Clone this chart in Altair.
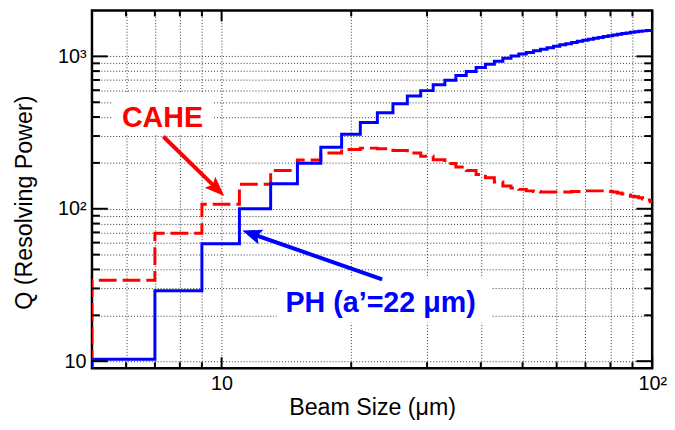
import altair as alt
import pandas as pd

# ---------------- data ----------------
bin_lo = [5, 7, 9, 11, 13, 15, 17, 19, 21, 23, 25, 27, 29, 31, 33, 35, 37, 39,
          41, 43, 45, 47, 49, 51, 53, 55, 57, 59, 61, 63, 65, 67, 69, 71, 73,
          75, 77, 79, 81, 83, 85, 87, 89, 91, 93, 95, 97, 99]
x_max = 100

ph_q = [10.3, 29, 59, 100, 146, 199, 253, 308, 368, 427,
        489, 550, 596, 651, 698, 749, 796, 845, 888, 929,
        971, 1005, 1036, 1060, 1090, 1115, 1140, 1165, 1190, 1210,
        1232, 1255, 1275, 1295, 1315, 1330, 1348, 1365, 1383, 1397,
        1411, 1425, 1438, 1450, 1460, 1470, 1476, 1480]

cahe_q = [34, 69, 107, 145, 178, 209, 232, 245, 250, 248,
          241, 232, 221, 210, 198, 188, 178, 168, 160, 150,
          141, 137, 134, 131, 130, 129, 129, 129, 129, 129,
          130, 130, 131, 131, 131, 131, 131, 130, 129, 127,
          125, 123, 121, 120, 118, 116, 114, 111]

x_domain = [5, 100]
y_domain = [9, 2000]

x_grid_vals = [6, 7, 8, 9, 10, 20, 30, 40, 50, 60, 70, 80, 90, 100]
y_grid_vals = [10, 20, 30, 40, 50, 60, 70, 80, 90,
               100, 200, 300, 400, 500, 600, 700, 800, 900, 1000]
x_major = [10, 100]
x_minor = [6, 7, 8, 9, 20, 30, 40, 50, 60, 70, 80, 90]
y_major = [10, 100, 1000]
y_minor = [20, 30, 40, 50, 60, 70, 80, 90, 200, 300, 400, 500, 600, 700, 800, 900]

# annotations (data coordinates)
labels = ["CAHE", "PH (a\u2019=22 \u03bcm)"]
label_x = [7.29, 23.4]
label_y = [346, 21.1]
label_color = ["#ff0000", "#0000ff"]
box_x = [5.565, 13.44]
box_x2 = [9.54, 42.3]
box_y = [307, 17.9]
box_y2 = [583, 35.1]
arrow_tail_x = [7.32, 23.6]
arrow_tail_y = [298, 34.4]
arrow_end_x = [9.69, 11.86]
arrow_end_y = [137.7, 67.9]
arrow_tip_x = [10.14, 11.17]
arrow_tip_y = [121.4, 71.9]
arrow_angle = [134, 289]

# ---------------- build ----------------
W, H = 567, 362
FONT = "Liberation Sans"


def step_frame(q):
    xs = [bin_lo[0]] + bin_lo + [x_max]
    ys = [y_domain[0]] + q + [q[-1]]
    return pd.DataFrame({"x": xs, "q": ys, "i": list(range(len(xs)))})


xs = alt.Scale(type="log", domain=x_domain, nice=False)
ys = alt.Scale(type="log", domain=y_domain, nice=False)

xaxis = alt.Axis(
    values=x_grid_vals,
    labelExpr="datum.value == 10 ? '10' : datum.value == 100 ? '10\u00b2' : ''",
    title="Beam Size (\u03bcm)",
    grid=True, gridDash=[1, 2], gridColor="#333333", gridWidth=1,
    ticks=False, domain=False,
    labelFont=FONT, labelFontSize=20, labelPadding=6, labelColor="black",
    labelOverlap=False, labelFlush=False,
    titleFont=FONT, titleFontSize=23.5, titleFontWeight="normal", titleColor="black",
    titleX=W / 2, titleY=40, titleAlign="center", titleBaseline="middle",
)
yaxis = alt.Axis(
    values=y_grid_vals,
    labelExpr="datum.value == 10 ? '10' : datum.value == 100 ? '10\u00b2' : datum.value == 1000 ? '10\u00b3' : ''",
    title="Q (Resolving Power)",
    grid=True, gridDash=[1, 2], gridColor="#333333", gridWidth=1,
    ticks=False, domain=False,
    labelFont=FONT, labelFontSize=20, labelPadding=6, labelColor="black",
    labelOverlap=False, labelFlush=False,
    titleFont=FONT, titleFontSize=23.5, titleFontWeight="normal", titleColor="black",
    titleX=-68, titleY=194, titleAngle=-90, titleAlign="center", titleBaseline="middle",
)


def X(f):
    return alt.X(f, type="quantitative", scale=xs, axis=xaxis)


def Y(f):
    return alt.Y(f, type="quantitative", scale=ys, axis=yaxis)


ann = pd.DataFrame({
    "label": labels, "lx": label_x, "ly": label_y, "col": label_color,
    "bx": box_x, "bx2": box_x2, "by": box_y, "by2": box_y2,
    "tx": arrow_tail_x, "ty": arrow_tail_y, "ex": arrow_end_x, "ey": arrow_end_y,
    "px": arrow_tip_x, "py": arrow_tip_y, "ang": arrow_angle,
})

boxes = alt.Chart(ann).mark_rect(color="white").encode(
    x=X("bx"), x2="bx2", y=Y("by"), y2="by2")

ph_line = alt.Chart(step_frame(ph_q)).mark_line(
    interpolate="step-after", clip=True, color="#0000ff", strokeWidth=3
).encode(x=X("x"), y=Y("q"), order="i:Q")

cahe_line = alt.Chart(step_frame(cahe_q)).mark_line(
    interpolate="step-after", clip=True, color="#ff0000", strokeWidth=3,
    strokeDash=[18, 6]
).encode(x=X("x"), y=Y("q"), order="i:Q")

texts = alt.Chart(ann).mark_text(
    font=FONT, fontWeight="bold", fontSize=29, align="center", baseline="alphabetic"
).encode(x=X("lx"), y=Y("ly"), text="label:N",
         color=alt.Color("col:N", scale=None))

shafts = alt.Chart(ann).mark_rule(strokeWidth=4).encode(
    x=X("tx"), y=Y("ty"), x2="ex", y2="ey", color=alt.Color("col:N", scale=None))

heads = alt.Chart(ann).mark_point(
    shape="M0,0 L-0.62,1.6 L0,1.3 L0.62,1.6 Z", filled=True, size=620, opacity=1,
    strokeWidth=0
).encode(x=X("px"), y=Y("py"), angle=alt.Angle("ang:Q", scale=None),
         color=alt.Color("col:N", scale=None))


def xticks(vals, length, top):
    df = pd.DataFrame({"v": vals})
    if top:
        return alt.Chart(df).mark_rule(color="black", strokeWidth=2).encode(
            x=X("v"), y=alt.value(0), y2=alt.value(length))
    return alt.Chart(df).mark_rule(color="black", strokeWidth=2).encode(
        x=X("v"), y=alt.value(H), y2=alt.value(H - length))


def yticks(vals, length, right):
    df = pd.DataFrame({"v": vals})
    if right:
        return alt.Chart(df).mark_rule(color="black", strokeWidth=2).encode(
            y=Y("v"), x=alt.value(W), x2=alt.value(W - length))
    return alt.Chart(df).mark_rule(color="black", strokeWidth=2).encode(
        y=Y("v"), x=alt.value(0), x2=alt.value(length))


tick_layers = [
    xticks(x_major, 11, False), xticks(x_minor, 6, False),
    xticks(x_major, 11, True), xticks(x_minor, 6, True),
    yticks(y_major, 16, False), yticks(y_minor, 8, False),
    yticks(y_major, 16, True), yticks(y_minor, 8, True),
]

chart = alt.layer(
    boxes, cahe_line, ph_line, shafts, heads, texts, *tick_layers
).properties(
    width=W, height=H,
    padding={"left": 85, "top": 0, "right": 15, "bottom": 52},
    autosize=alt.AutoSizeParams(type="none"),
    background="white",
).configure_view(stroke="black", strokeWidth=2.5)

chart.save("out.html", embed_options={"renderer": "svg", "actions": False})
